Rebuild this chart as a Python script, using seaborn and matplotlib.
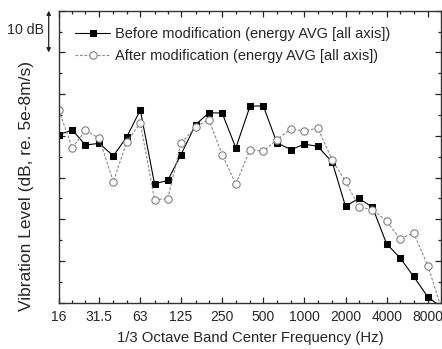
import matplotlib
matplotlib.use("Agg")
import matplotlib.pyplot as plt
from matplotlib.ticker import FixedLocator, NullFormatter, MultipleLocator
import numpy as np
import pandas as pd
import seaborn as sns

# 1/3 octave band centre frequencies (Hz)
bands = [16, 20, 25, 31.5, 40, 50, 63, 80, 100, 125, 160, 200, 250, 315, 400,
         500, 630, 800, 1000, 1250, 1600, 2000, 2500, 3150, 4000, 5000, 6300,
         8000, 10000]

# Vibration level per band (dB, arbitrary reference offset)
before = [40.3, 41.4, 37.8, 38.2, 35.2, 39.7, 46.2, 28.5, 29.3, 35.5, 42.7,
          45.5, 45.5, 37.1, 47.1, 47.2, 38.3, 36.7, 38.0, 37.5, 33.7, 23.1,
          25.0, 22.9, 14.1, 10.8, 6.3, 1.4, -1.0]
after = [46.1, 37.1, 41.3, 39.4, 29.0, 38.5, 43.1, 24.7, 24.9, 38.2, 42.1,
         43.9, 35.5, 28.4, 36.7, 36.3, 39.1, 41.7, 41.1, 41.9, 34.2, 29.1,
         23.0, 22.3, 19.6, 15.3, 16.7, 8.9, -1.0]

octave_ticks = [16, 31.5, 63, 125, 250, 500, 1000, 2000, 4000, 8000]
octave_labels = ["16", "31.5", "63", "125", "250", "500", "1000", "2000",
                 "4000", "8000"]

label_before = "Before modification (energy AVG [all axis])"
label_after = "After modification (energy AVG [all axis])"

sns.set_theme(style="ticks")
plt.rcParams["font.family"] = ["Liberation Sans", "DejaVu Sans"]
plt.rcParams["font.size"] = 10

df = pd.DataFrame({"freq": bands, "before": before, "after": after})

fig = plt.figure(figsize=(4.42, 3.49), dpi=100)
ax = fig.add_axes([59 / 442, 46.3 / 349, 382 / 442, 292 / 349])

sns.lineplot(data=df, x="freq", y="before", ax=ax, color="black",
             linewidth=0.8, marker="s", markersize=4.6,
             markerfacecolor="black", markeredgecolor="black",
             label=label_before)
sns.lineplot(data=df, x="freq", y="after", ax=ax, color="#8a8a8a",
             linewidth=0.8, linestyle=(0, (2.5, 1.5)), marker="o",
             markersize=5.3, markerfacecolor="white",
             markeredgecolor="#808080", markeredgewidth=0.8,
             label=label_after)

ax.set_xscale("log")
ax.set_xlim(16, 10000)
ax.set_ylim(0, 70)

ax.xaxis.set_major_locator(FixedLocator(octave_ticks))
ax.xaxis.set_minor_locator(FixedLocator(bands))
ax.set_xticklabels(octave_labels)
ax.xaxis.set_minor_formatter(NullFormatter())
ax.yaxis.set_major_locator(MultipleLocator(10))
ax.yaxis.set_minor_locator(MultipleLocator(5))
ax.yaxis.set_major_formatter(NullFormatter())

ax.tick_params(which="both", direction="in", top=True, right=True,
               color="#222222", width=0.9)
ax.tick_params(which="major", length=4.5, pad=5, labelsize=10)
ax.tick_params(which="minor", length=2.5)
for s in ax.spines.values():
    s.set_linewidth(1.0)
    s.set_color("#333333")

ax.set_xlabel("1/3 Octave Band Center Frequency (Hz)", fontsize=10.7)
ax.set_ylabel("Vibration Level (dB, re. 5e-8m/s)", fontsize=12.5)
ax.xaxis.set_label_coords(0.5, -0.097)
ax.yaxis.set_label_coords(-0.066, 0.40)

# 10 dB scale bar beside the level axis
trans = ax.get_yaxis_transform()
ax.annotate("", xy=(-0.027, 70), xytext=(-0.027, 60), xycoords=trans,
            textcoords=trans, annotation_clip=False,
            arrowprops=dict(arrowstyle="<|-|>", color="#222222", lw=0.9,
                            mutation_scale=6, shrinkA=0, shrinkB=0))
ax.text(-0.04, 65.4, "10 dB", transform=trans, ha="right", va="center",
        fontsize=10.2)

ax.legend(loc="upper left", bbox_to_anchor=(0.02, 0.975), frameon=False,
          handlelength=2.4, handletextpad=0.35, labelspacing=0.55,
          fontsize=10.5, borderaxespad=0.2)

fig.savefig("out.png", dpi=100)
